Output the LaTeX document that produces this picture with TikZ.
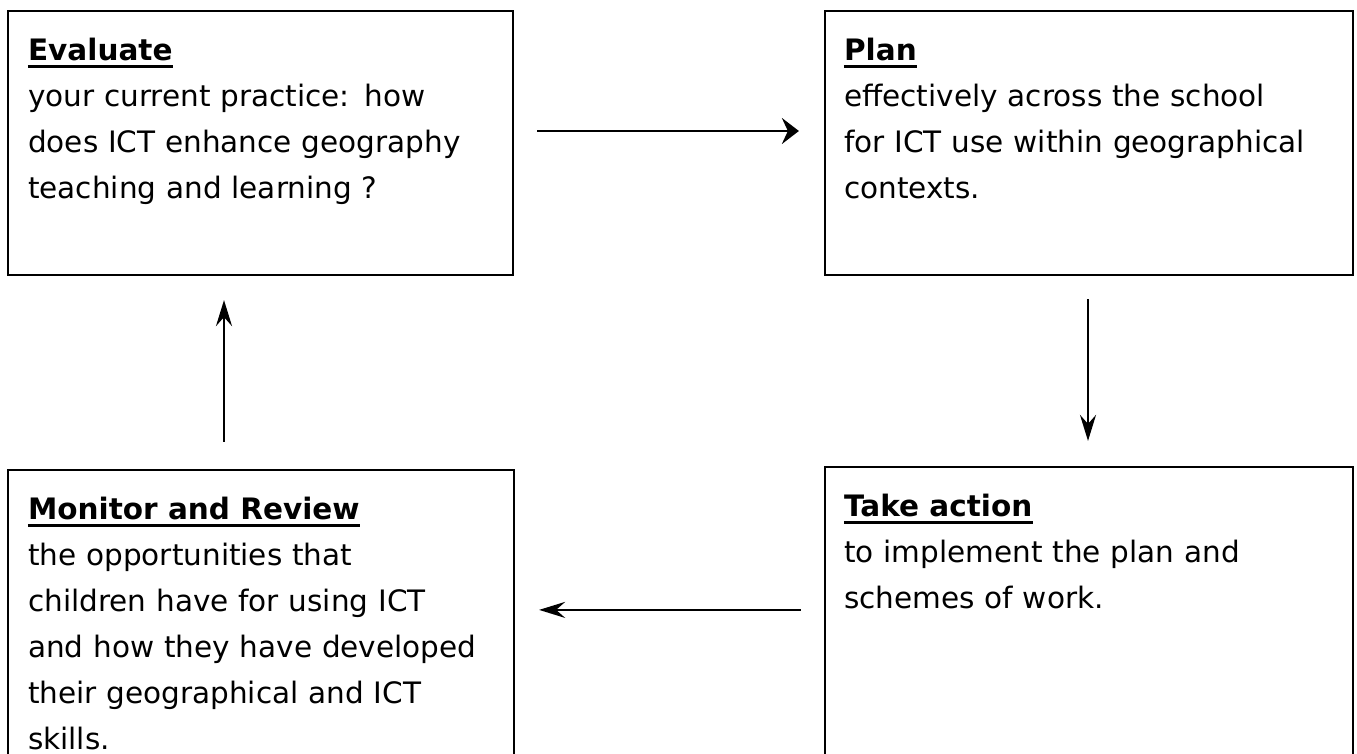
\documentclass[tikz,border=0pt]{standalone}
\usepackage{fontspec}
\setmainfont{DejaVu Sans}
\usetikzlibrary{arrows.meta,calc}
\begin{document}
\begin{tikzpicture}[x=1pt,y=-1pt,
  boxstyle/.style={draw=black, line width=2.2pt, rectangle, inner sep=0pt, fill=white},
  titlestyle/.style={anchor=base west, inner sep=0pt, font=\fontsize{29.5}{46}\selectfont\bfseries},
  bodystyle/.style={anchor=north west, inner sep=0pt, text width=480pt, align=left, font=\fontsize{29.5}{46}\selectfont},
  ulstyle/.style={line width=3pt},
  arr/.style={line width=2.6pt, -{Stealth[length=26pt,width=16pt,inset=9pt]}},
  arrwide/.style={line width=2.6pt, -{Stealth[length=17pt,width=26pt,inset=6pt]}}
]
\useasboundingbox (0,0) rectangle (1357,754);

% boxes
\node[boxstyle, minimum width=505pt, minimum height=264pt] (b1) at (260.5,143) {};
\node[boxstyle, minimum width=528pt, minimum height=264pt] (b2) at (1089,143) {};
\node[boxstyle, minimum width=506pt, minimum height=320pt] (b3) at (261,630) {};
\node[boxstyle, minimum width=528pt, minimum height=323pt] (b4) at (1089,628.5) {};

% titles
\node[titlestyle] (t1) at ($(b1.north west)+(21,51)$) {Evaluate};
\node[titlestyle] (t2) at ($(b2.north west)+(20,51)$) {Plan};
\node[titlestyle] (t3) at ($(b3.north west)+(21,51)$) {Monitor and Review};
\node[titlestyle] (t4) at ($(b4.north west)+(20,51)$) {Take action};
\foreach \t in {t1,t2,t3,t4}{
  \draw[ulstyle] ([yshift=-6pt]\t.base west) -- ([yshift=-6pt]\t.base east);
}

% bodies
\node[bodystyle] (x1) at ($(b1.north west)+(21,66)$) {\rule{0pt}{30pt}your current practice: how\\ does ICT enhance geography\\ teaching and learning ?};
\node[bodystyle] (x2) at ($(b2.north west)+(20,66)$) {\rule{0pt}{30pt}effectively across the school\\ for ICT use within geographical\\ contexts.};
\node[bodystyle] (x3) at ($(b3.north west)+(21,66)$) {\rule{0pt}{30pt}the opportunities that\\ children have for using ICT\\ and how they have developed\\ their geographical and ICT\\ skills.};
\node[bodystyle] (x4) at ($(b4.north west)+(20,66)$) {\rule{0pt}{30pt}to implement the plan and\\ schemes of work.};

% arrows
\draw[arrwide] ([xshift=23pt,yshift=12pt]b1.east) -- ([xshift=-25pt,yshift=12pt]b2.west);
\draw[arr] ([xshift=-1pt,yshift=-23pt]b2.south) -- ([xshift=-1pt,yshift=25pt]b4.north);
\draw[arr] ([xshift=-23pt,yshift=-144pt]b4.north west) -- ([xshift=24pt,yshift=-141pt]b3.north east);
\draw[arr] ([xshift=-37pt,yshift=27pt]b3.north) -- ([xshift=-36.5pt,yshift=-24pt]b1.south);
\end{tikzpicture}
\end{document}
